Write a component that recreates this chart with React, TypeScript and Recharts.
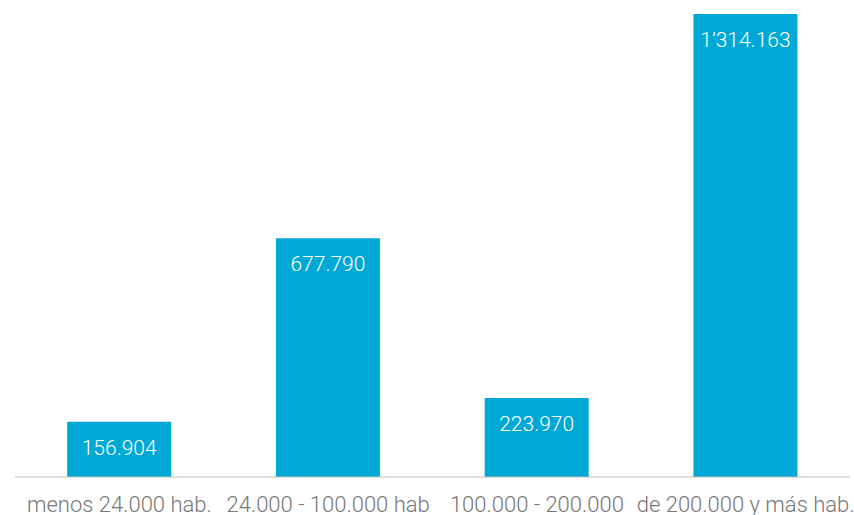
import { BarChart, Bar, XAxis, YAxis, LabelList } from "recharts";

const categories = [
  "menos 24.000 hab.",
  "24.000 - 100.000 hab",
  "100.000 - 200.000",
  "de 200.000 y más hab.",
];
const values = [156904, 677790, 223970, 1314163];
const valueLabels = ["156.904", "677.790", "223.970", "1’314.163"];

const data = categories.map((name, i) => ({
  name,
  value: values[i],
  label: valueLabels[i],
}));

export default function App() {
  return (
    <div
      style={{
        position: "absolute",
        top: 0,
        left: 0,
        width: 854,
        height: 515,
        fontFamily: "Roboto, sans-serif",
      }}
    >
      <BarChart
        width={854}
        height={515}
        data={data}
        margin={{ top: 14, right: 4, bottom: 0, left: 15 }}
        barCategoryGap="25%"
      >
        <XAxis
          dataKey="name"
          height={38}
          tickLine={false}
          tickSize={0}
          tickMargin={19}
          axisLine={{ stroke: "#bdbdbd", strokeWidth: 1 }}
          interval={0}
          tick={{ fill: "#777777", fontSize: 22, fontWeight: 300 }}
        />
        <YAxis hide domain={[0, 1314163]} />
        <Bar dataKey="value" fill="#00a8d6" isAnimationActive={false}>
          <LabelList
            dataKey="label"
            position="insideTop"
            offset={18}
            fill="#ffffff"
            fontSize={21}
            fontWeight={300}
          />
        </Bar>
      </BarChart>
    </div>
  );
}
